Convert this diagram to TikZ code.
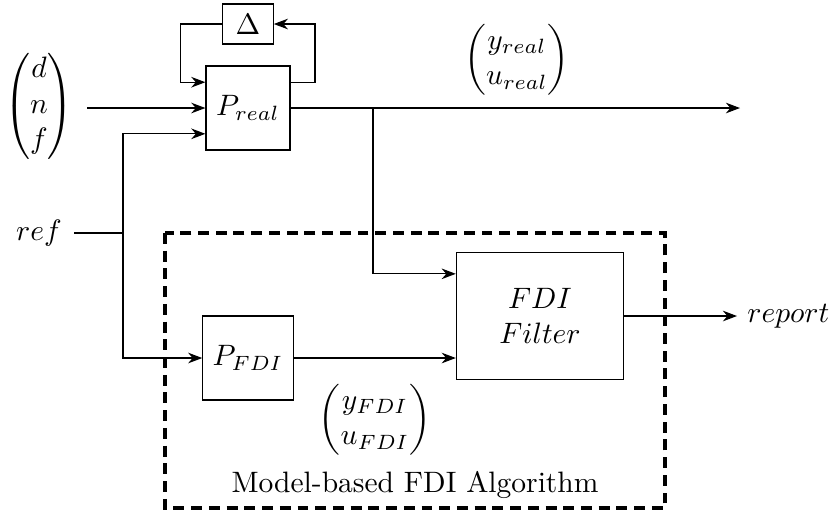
\documentclass[tikz,border=0pt]{standalone}
\usepackage{amsmath}
\usetikzlibrary{positioning, calc, arrows.meta}

\begin{document}
\begin{tikzpicture}[
        x=0.0119cm, y=-0.0119cm,
        block/.style={rectangle, draw, minimum width=1cm, minimum height=1cm, align=center},
        signal/.style={->, >=Stealth}
    ]
        \useasboundingbox (0,0) rectangle (833,512);

        \node[block] (PREAL) at (248,108) {$P_{real}$};
        \node[block, minimum width=0.6cm, minimum height=0.46cm] (DELTA) at (248,24) {$\Delta$};
        \node[block, minimum width=1.07cm] (PFDI) at (248,358) {$P_{FDI}$};
        \node[block, minimum width=1.99cm, minimum height=1.51cm] (FILTER) at (540,316) {$FDI$\\$Filter$};

        \node (DNF) at (39,106) {$\begin{pmatrix} d\\ n\\ f \end{pmatrix}$};
        \node[inner sep=4pt] (REF) at (39,233) {$ref$};
        \node[right] (REPORT) at (737,316) {$report$};
        \node (YREAL) at (517,60) {$\begin{pmatrix} y_{real}\\ u_{real} \end{pmatrix}$};
        \node (YFDI) at (375,420) {$\begin{pmatrix} y_{FDI}\\ u_{FDI} \end{pmatrix}$};

        \coordinate (DIN) at (87,108);
        \coordinate (BR) at (123,233);
        \coordinate (TAP) at (373,108);
        \coordinate (YOUT) at (740,108);

        % uncertainty loop
        \draw[signal] ([yshift=-0.2cm]PREAL.north east) -- ++(0.29cm,0) |- (DELTA.east);
        \draw[signal] (DELTA.west) -- ++(-0.5cm,0) |- ([yshift=-0.2cm]PREAL.north west);

        % inputs
        \draw[signal] (DIN) -- (PREAL.west);
        \draw (REF.east) -- (BR);
        \draw[signal] (BR) |- ([yshift=0.2cm]PREAL.south west);
        \draw[signal] (BR) |- (PFDI.west);

        % outputs
        \draw[signal] (PREAL.east) -- (YOUT);
        \draw[signal] (TAP) |- ([yshift=-0.26cm]FILTER.north west);
        \draw[signal] (PFDI.east) -- (PFDI.east -| FILTER.west);
        \draw[signal] (FILTER.east) -- (REPORT.west);

        % FDI algorithm
        \draw[very thick, dash pattern=on 3.7pt off 2.3pt] (165,233) rectangle (665,508);
        \node (ALGO) at (415,485) {Model-based FDI Algorithm};
    \end{tikzpicture}
\end{document}
